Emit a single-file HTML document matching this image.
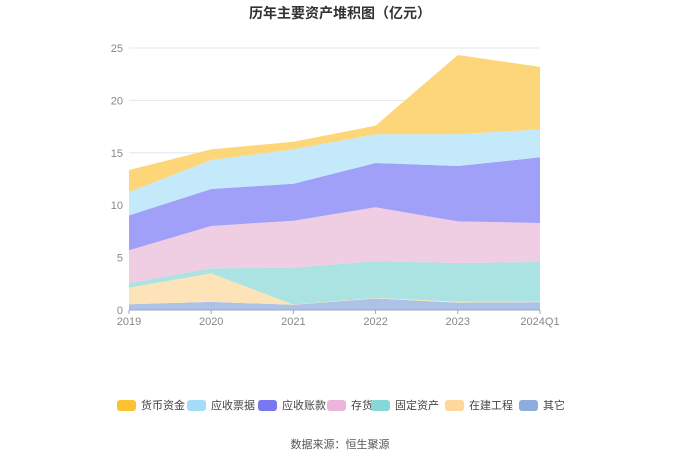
<!DOCTYPE html>
<html><head><meta charset="utf-8">
<style>
body{margin:0;background:#fff;font-family:"Liberation Sans","Noto Sans CJK SC",sans-serif;}
#wrap{position:relative;width:680px;height:460px;overflow:hidden;}
.t{position:absolute;left:0;width:680px;text-align:center;}
.leg{position:absolute;top:399px;height:12px;display:flex;align-items:center;font-size:11px;color:#444;}
.leg i{display:inline-block;width:19px;height:11px;border-radius:3px;margin-right:5px;}
</style></head><body>
<div id="wrap">
<div class="t" style="top:3px;font-size:14px;font-weight:bold;color:#333">历年主要资产堆积图（亿元）</div>
<svg id="svg" width="680" height="460" style="position:absolute;left:0;top:0"></svg>
<div id="legend"></div>
<div class="t" style="top:436px;font-size:11px;color:#555">数据来源：恒生聚源</div>
</div>
<script>
const categories=["2019","2020","2021","2022","2023","2024Q1"];
const seriesNames=["其它","在建工程","固定资产","存货","应收账款","应收票据","货币资金"];
const other=[0.55,0.77,0.5,1.1,0.7,0.75];
const construction=[1.58,2.73,0.02,0.05,0.1,0.05];
const fixedAssets=[0.42,0.48,3.52,3.5,3.69,3.78];
const inventory=[3.15,4.04,4.48,5.15,3.97,3.72];
const receivables=[3.33,3.53,3.53,4.23,5.28,6.27];
const notesReceivable=[2.23,2.76,3.28,2.74,3.03,2.67];
const cash=[2.1,1.02,0.73,0.82,7.56,5.96];
const yTicks=[0,5,10,15,20,25];
const series=[other,construction,fixedAssets,inventory,receivables,notesReceivable,cash];
const fills=["#aec1e6","#fde4b8","#abe2e2","#efcde3","#a0a0f8","#c4e9fb","#fed67a"];
const legColors=["#8eacdd","#fdd89a","#86d7d7","#eab6da","#7a78f0","#a5ddf8","#fbc234"];
const keys=["other","construction","fixed-assets","inventory","receivables","notes-receivable","cash"];
const x0=129,x1=540,yb=310,yt=48,ymax=25;
const X=i=>x0+(x1-x0)*i/(categories.length-1);
const Y=v=>yb-(yb-yt)*v/ymax;
const svg=document.getElementById('svg');const NS="http://www.w3.org/2000/svg";
function mk(t,a){const e=document.createElementNS(NS,t);for(const k in a)e.setAttribute(k,a[k]);svg.appendChild(e);return e;}
yTicks.forEach(v=>{
 if(v>0){const l=mk('line',{x1:x0,x2:x1,y1:Y(v),y2:Y(v),stroke:'#e6e6f0','stroke-width':1});
 
 }
 const t=mk('text',{x:x0-6,y:Y(v)+4,'text-anchor':'end','font-size':11,fill:'#888'});t.textContent=v;
 
 
});
let base=categories.map(()=>0);
series.forEach((s,si)=>{
 const top=base.map((b,i)=>b+s[i]);
 let d='M'+categories.map((c,i)=>X(i)+','+Y(top[i])).join('L');
 for(let i=categories.length-1;i>=0;i--)d+='L'+X(i)+','+Y(base[i]);
 const p=mk('path',{d:d+'Z',fill:fills[si]});
 
 
 base=top;
});
const ax=mk('line',{x1:x0,x2:x1,y1:yb,y2:yb,stroke:'#9aa8c8','stroke-width':1});


categories.forEach((c,i)=>{
 const tk=mk('line',{x1:X(i),x2:X(i),y1:yb,y2:yb+4,stroke:'#9aa8c8'});
 
 
 const t=mk('text',{x:X(i),y:yb+15,'text-anchor':'middle','font-size':11,fill:'#888'});t.textContent=c;
 
 
});
const legOrder=[6,5,4,3,2,1,0];const legX=[117,187,258,327,371,445,519];
const lg=document.getElementById('legend');
legOrder.forEach((si,k)=>{
 const d=document.createElement('div');d.className='leg';d.style.left=legX[k]+'px';
 d.innerHTML='<i style="background:'+legColors[si]+'"></i>'+seriesNames[si];
 
 
 lg.appendChild(d);
});
</script>
</body></html>
